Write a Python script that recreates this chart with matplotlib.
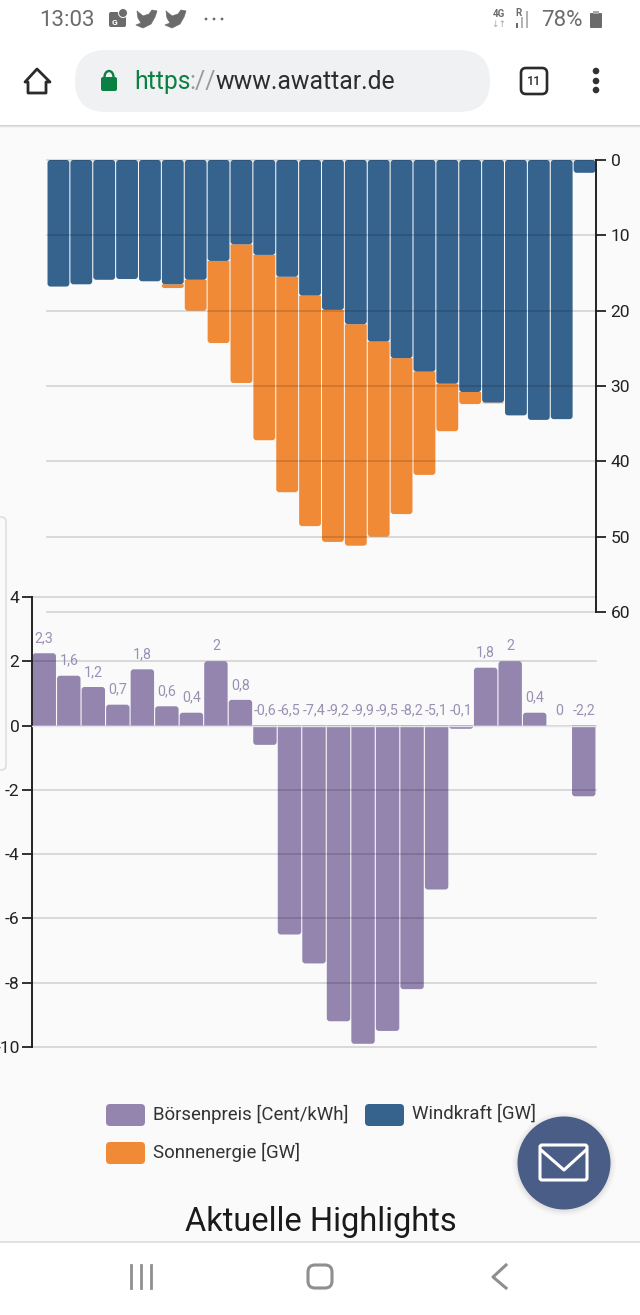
import matplotlib
matplotlib.use('Agg')
import matplotlib.pyplot as plt
from matplotlib.patches import Circle, FancyBboxPatch, PathPatch, Polygon, Rectangle, Arc
from matplotlib.path import Path

plt.rcParams['font.family'] = ['Roboto', 'DejaVu Sans']
plt.rcParams['axes.unicode_minus'] = False

W, H = 640, 1315

# top chart, GW per hour
wind = [16.8, 16.5, 15.9, 15.8, 16.1, 16.5, 15.9, 13.4, 11.2, 12.6, 15.5, 18.0,
        19.9, 21.8, 24.1, 26.3, 28.1, 29.7, 30.8, 32.2, 33.9, 34.5, 34.4, 1.7]
solar = [0, 0, 0, 0, 0, 0.5, 4.1, 10.9, 18.4, 24.6, 28.6, 30.6,
         30.8, 29.4, 25.9, 20.7, 13.7, 6.3, 1.6, 0.1, 0, 0, 0, 0]
gw_ticks = [0, 10, 20, 30, 40, 50, 60]

# bottom chart, Cent/kWh
price = [2.25, 1.55, 1.2, 0.65, 1.75, 0.6, 0.4, 2.0, 0.8, -0.6, -6.5, -7.4,
         -9.2, -9.9, -9.5, -8.2, -5.1, -0.1, 1.8, 2.0, 0.4, 0, -2.2]
price_labels = ['2,3', '1,6', '1,2', '0,7', '1,8', '0,6', '0,4', '2', '0,8', '-0,6', '-6,5', '-7,4',
                '-9,2', '-9,9', '-9,5', '-8,2', '-5,1', '-0,1', '1,8', '2', '0,4', '0', '-2,2']
price_ticks = [4, 2, 0, -2, -4, -6, -8, -10]

legend_names = ['Börsenpreis [Cent/kWh]', 'Windkraft [GW]', 'Sonnenergie [GW]']

PURPLE = '#9385ae'
BLUE = '#36638d'
ORANGE = '#f08a37'
BG = '#fafafa'
TXT = '#222222'
GREY = '#6b6b6b'


def axes_px(x0, y0, x1, y1):
    # axes from pixel box, y counted from top of the picture
    return fig.add_axes([x0 / W, 1 - y1 / H, (x1 - x0) / W, (y1 - y0) / H])


def round_bar(ax, x, y0, y1, w, color, px_per_x, px_per_y, r=3.0, far_only=False):
    # bar from y0 to y1 with rounded corners, radius given in pixels
    rx = r / px_per_x
    s = 1 if y1 > y0 else -1
    ry = min(r / px_per_y, abs(y1 - y0) / 2)
    l, m = x - w / 2, x + w / 2
    start = (l, y0) if far_only else (l, y0 + s * ry)
    verts = [start, (l, y1 - s * ry), (l, y1), (l + rx, y1), (m - rx, y1), (m, y1), (m, y1 - s * ry)]
    codes = [Path.MOVETO, Path.LINETO, Path.CURVE3, Path.CURVE3, Path.LINETO, Path.CURVE3, Path.CURVE3]
    if far_only:
        verts.append((m, y0))
        codes.append(Path.LINETO)
    else:
        verts += [(m, y0 + s * ry), (m, y0), (m - rx, y0), (l + rx, y0), (l, y0), start]
        codes += [Path.LINETO, Path.CURVE3, Path.CURVE3, Path.LINETO, Path.CURVE3, Path.CURVE3]
    ax.add_patch(PathPatch(Path(verts, codes), facecolor=color, edgecolor='none', zorder=2))


def grid_on(ax):
    ax.grid(axis='y', color='black', alpha=0.17, lw=1.1, zorder=3)
    ax.set_axisbelow(False)
    for line in ax.get_ygridlines():
        line.set_clip_on(False)


fig = plt.figure(figsize=(W / 100, H / 100), dpi=100, facecolor=BG)

# wind and solar
ax1 = axes_px(47, 160, 596, 612)
ax1.patch.set_alpha(0)
n = len(wind)
ax1.set_xlim(-0.5, n - 0.5)
ax1.set_ylim(60, 0)
sx, sy = 549 / n, 452 / 60
for i in range(n):
    if solar[i] > 0:
        round_bar(ax1, i, wind[i], wind[i] + solar[i], 0.955, ORANGE, sx, sy, far_only=True)
    round_bar(ax1, i, 0, wind[i], 0.955, BLUE, sx, sy)
ax1.yaxis.tick_right()
ax1.set_yticks(gw_ticks)
ax1.set_xticks([])
ax1.tick_params(axis='y', length=7.5, width=1.3, color='#222222', labelsize=12.5, labelcolor=TXT, pad=3)
grid_on(ax1)
for name, sp in ax1.spines.items():
    sp.set_visible(name == 'right')
ax1.spines['right'].set_linewidth(1.4)
ax1.spines['right'].set_color('#222222')

# price
ax2 = axes_px(32, 597, 596, 1047)
ax2.patch.set_alpha(0)
m = len(price)
ax2.set_xlim(-0.5, m - 0.5)
ax2.set_ylim(-10, 4)
sx2, sy2 = 564 / m, 450 / 14
for i, v in enumerate(price):
    if v != 0:
        round_bar(ax2, i, 0, v, 0.955, PURPLE, sx2, sy2, far_only=True)
    ax2.annotate(price_labels[i], (i, max(v, 0)), xytext=(0, 10.8), textcoords='offset points',
                 ha='center', va='center', fontsize=10.3, color='#9a90b3')
ax2.set_yticks(price_ticks)
ax2.set_xticks([])
ax2.tick_params(axis='y', length=7, width=1.3, color='#222222', labelsize=12.5, labelcolor=TXT, pad=2)
grid_on(ax2)
ax2.axhline(0, color='#e4e1ea', lw=1.0, zorder=3.5)
for name, sp in ax2.spines.items():
    sp.set_visible(name == 'left')
ax2.spines['left'].set_linewidth(1.4)
ax2.spines['left'].set_color('#222222')

# browser chrome, legend and nav bar in pixel coordinates
ui = fig.add_axes([0, 0, 1, 1], zorder=10)
ui.set_xlim(0, W)
ui.set_ylim(H, 0)
ui.axis('off')
ui.patch.set_alpha(0)


def rbox(x0, y0, x1, y1, r, **kw):
    ui.add_patch(FancyBboxPatch((x0 + r, y0 + r), x1 - x0 - 2 * r, y1 - y0 - 2 * r,
                                boxstyle='round,pad=%f,rounding_size=%f' % (r, r), **kw))


# header
for k, a in enumerate([0.10, 0.06, 0.03]):
    ui.add_patch(Rectangle((0, 124 + k), W, 1.5, fc='black', ec='none', alpha=a))
ui.add_patch(Rectangle((0, 0), W, 124.5, fc='white', ec='none'))
ui.text(39, 20, '13:03', fontsize=16, color=GREY, va='center')
rbox(109, 12, 126, 27, 2, fc=GREY, ec='none')
ui.add_patch(Circle((123, 13), 4.5, fc=GREY, ec='white', lw=0.7))
ui.text(115, 22, 'G', fontsize=6, color='white', ha='center', va='center', fontweight='bold')
for bx in [147, 176]:
    ui.add_patch(Polygon([(bx - 10, 11), (bx - 4, 16), (bx + 2, 14), (bx + 5, 10), (bx + 10, 11),
                          (bx + 8, 17), (bx + 4, 24), (bx - 4, 28), (bx - 11, 25), (bx - 6, 23), (bx - 9, 18)],
                         fc=GREY, ec=GREY, lw=0.5, joinstyle='round'))
for dx in [206, 214, 222]:
    ui.add_patch(Circle((dx, 19), 1.4, fc=GREY, ec='none'))
ui.text(499, 14, '4G', fontsize=7, color=GREY, ha='center', va='center', fontweight='bold')
ui.text(499, 24, '↓↑', fontsize=6.5, color='#aaaaaa', ha='center', va='center')
ui.text(518, 13, 'R', fontsize=7, color=GREY, ha='center', va='center', fontweight='bold')
for j, bh in enumerate([5, 11, 17]):
    ui.add_patch(Rectangle((516 + j * 5, 28 - bh), 2, bh, fc=GREY if j == 0 else '#b5b5b5', ec='none'))
ui.text(541, 20, '78%', fontsize=16, color=GREY, va='center')
rbox(590, 13, 602, 28, 1, fc=GREY, ec='none')
ui.add_patch(Rectangle((593, 10.5), 6, 3, fc='#aaaaaa', ec='none'))

ui.add_patch(Polygon([(25, 82), (37, 69), (50, 82), (46, 82), (46, 93), (28, 93), (28, 82)], closed=True,
                     fc='none', ec='#2b2b2b', lw=2.0, joinstyle='round'))
rbox(75, 50, 490, 112, 31, fc='#f0f1f3', ec='none')
rbox(101, 77, 117, 91, 2, fc='#0b8043', ec='none')
ui.add_patch(Arc((109, 77), 9, 12, theta1=180, theta2=360, ec='#0b8043', lw=1.7))
ui.text(134, 82, 'https', fontsize=17.8, color='#0b8043', va='center')
ui.text(189, 82, '://', fontsize=17.8, color='#999999', va='center')
ui.text(215, 82, 'www.awattar.de', fontsize=17.8, color='#2d2d2d', va='center')
rbox(521, 68, 547, 94, 5, fc='white', ec='#2b2b2b', lw=1.9)
ui.text(534, 81, '11', fontsize=9, color='#2b2b2b', ha='center', va='center', fontweight='medium')
for dy in [71, 81, 90]:
    ui.add_patch(Circle((596, dy), 3.3, fc='#333333', ec='none'))

# side card on the left edge
rbox(-14, 517, 6, 770, 5, fc='none', ec='#d9d9d9', lw=1.0)

# legend
colors = [PURPLE, BLUE, ORANGE]
leg_x = [106, 365, 106]
leg_y = [1115, 1115, 1153]
for name, c, lx, ly in zip(legend_names, colors, leg_x, leg_y):
    rbox(lx, ly - 11, lx + 39, ly + 11, 4, fc=c, ec='none')
    ui.text(lx + 47, ly - 1, name, fontsize=13.4, color='#333333', va='center')

ui.text(320.5, 1222, 'Aktuelle Highlights', fontsize=23.5, color='#1a1a1a', ha='center', va='center')

# mail button
for rad, a in [(52, 0.02), (50, 0.03), (48, 0.04)]:
    ui.add_patch(Circle((564, 1164), rad, fc='black', ec='none', alpha=a))
ui.add_patch(Circle((564, 1163), 46.5, fc='#4a5d87', ec='none'))
rbox(540, 1145, 587, 1180, 2, fc='none', ec='white', lw=2.2)
ui.plot([541, 564, 586], [1150, 1170, 1150], color='white', lw=2.2, solid_joinstyle='round')

# nav bar
ui.add_patch(Rectangle((0, 1241), W, H - 1241, fc='white', ec='none'))
ui.plot([0, W], [1241.5, 1241.5], color='#dddddd', lw=1.2)
for nx in [131, 141, 151]:
    ui.plot([nx, nx], [1265, 1288], color='#8f8f8f', lw=2.0)
rbox(308, 1265, 332, 1288, 7, fc='none', ec='#8f8f8f', lw=2.2)
ui.plot([506, 493, 506], [1265, 1277, 1288], color='#8f8f8f', lw=2.2)

fig.savefig('out.png', dpi=100, facecolor=BG)
